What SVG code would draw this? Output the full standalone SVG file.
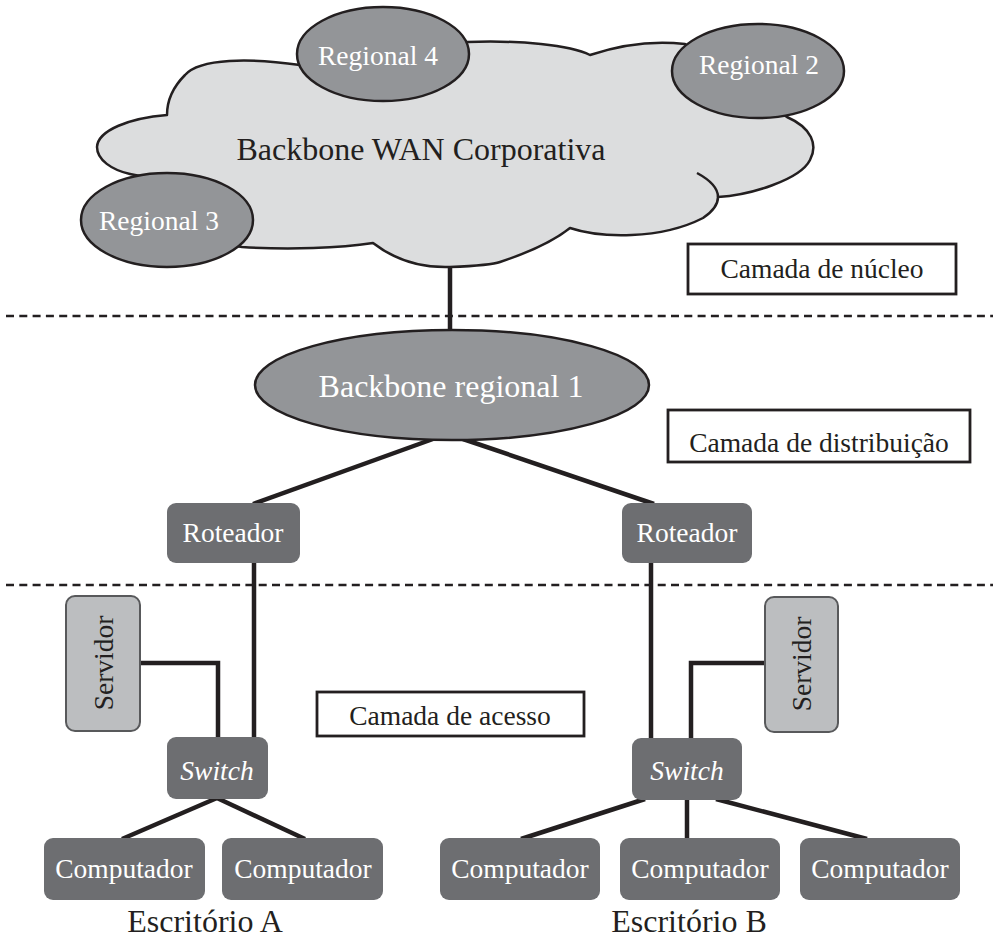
<svg xmlns="http://www.w3.org/2000/svg" width="993" height="939" viewBox="0 0 993 939">
<style>
text{font-family:"Liberation Serif","Times New Roman",serif;text-anchor:middle}
.w{fill:#ffffff}
.k{fill:#231f20}
.big{font-size:32px}
.mid{font-size:27.5px}
.ell{fill:#939598;stroke:#231f20;stroke-width:2.5}
.node{fill:#6d6e71}
.srv{fill:#bcbec0;stroke:#58595b;stroke-width:2}
.lbl{fill:#ffffff;stroke:#231f20;stroke-width:2.8}
.con{fill:none;stroke:#231f20;stroke-width:4.5}
.dash{fill:none;stroke:#231f20;stroke-width:2.5;stroke-dasharray:8 5.3}
</style>
<g id="layers">
<line class="dash" x1="6" y1="316" x2="993" y2="316"/>
<line class="dash" x1="6" y1="585" x2="993" y2="585"/>
</g>
<g id="connectors">
<line class="con" x1="450" y1="262" x2="450" y2="332"/>
<line class="con" x1="433" y1="439" x2="253" y2="504"/>
<line class="con" x1="463" y1="439" x2="654" y2="504"/>
<line class="con" x1="254" y1="562" x2="254" y2="738"/>
<line class="con" x1="651" y1="562" x2="651" y2="739"/>
<polyline class="con" points="140,663 218,663 218,738"/>
<polyline class="con" points="766,663 691,663 691,739"/>
<line class="con" x1="217" y1="798" x2="122" y2="839"/>
<line class="con" x1="217" y1="798" x2="305" y2="839"/>
<line class="con" x1="645" y1="799" x2="521" y2="839"/>
<line class="con" x1="687" y1="799" x2="687" y2="839"/>
<line class="con" x1="716" y1="799" x2="867" y2="839"/>
</g>
<g id="cloud">
<path d="M300,65 C250,58 200,58 185,75 C172,88 167,100 167,115 C130,118 98,130 97,147 C97,160 112,170 130,174 L140,176 L200,240 L242,247 C290,250 340,248 373,243 C395,260 420,268 450,267 C475,266 495,264 500,262 C530,252 555,240 570,228 C600,238 660,240 703,218 C712,212 718,205 718,197 C750,195 800,180 810,160 C818,145 812,128 787,117 L760,100 L685,44 C650,40 620,45 590,55 C570,45 520,40 467,42 L400,60 Z" fill="#dcddde" stroke="#231f20" stroke-width="2.5" stroke-linejoin="round"/>
<path d="M697,173 C710,180 718,188 718,197" fill="none" stroke="#231f20" stroke-width="2.5"/>
<text class="k big" x="421" y="160">Backbone WAN Corporativa</text>
</g>
<g id="regional4">
<ellipse class="ell" cx="383" cy="54" rx="86" ry="47"/>
<text class="w mid" x="378" y="65">Regional 4</text>
</g>
<g id="regional2">
<ellipse class="ell" cx="758" cy="71" rx="86" ry="47"/>
<text class="w mid" x="759" y="74">Regional 2</text>
</g>
<g id="regional3">
<ellipse class="ell" cx="167" cy="220" rx="86" ry="47"/>
<text class="w mid" x="159" y="230">Regional 3</text>
</g>
<g id="camada-nucleo">
<rect class="lbl" x="688" y="244" width="268" height="50"/>
<text class="k mid" x="822" y="278">Camada de núcleo</text>
</g>
<g id="backbone-regional-1">
<ellipse class="ell" cx="452" cy="385" rx="197" ry="55"/>
<text class="w big" x="451" y="397">Backbone regional 1</text>
</g>
<g id="camada-distribuicao">
<rect class="lbl" x="668" y="410" width="302" height="52"/>
<text class="k mid" x="819" y="452">Camada de distribuição</text>
</g>
<g id="roteador-a">
<rect class="node" x="167" y="503" width="133" height="60" rx="9"/>
<text class="w mid" x="233" y="542">Roteador</text>
</g>
<g id="roteador-b">
<rect class="node" x="622" y="503" width="130" height="60" rx="9"/>
<text class="w mid" x="687" y="542">Roteador</text>
</g>
<g id="servidor-a">
<rect class="srv" x="66" y="596" width="74" height="135" rx="9"/>
<text class="k mid" transform="translate(113,663) rotate(-90)" x="0" y="0">Servidor</text>
</g>
<g id="servidor-b">
<rect class="srv" x="765" y="597" width="73" height="135" rx="9"/>
<text class="k mid" transform="translate(811,664) rotate(-90)" x="0" y="0">Servidor</text>
</g>
<g id="camada-acesso">
<rect class="lbl" x="317" y="692" width="267" height="44"/>
<text class="k mid" x="450" y="725">Camada de acesso</text>
</g>
<g id="switch-a">
<rect class="node" x="167" y="737" width="101" height="62" rx="9"/>
<text class="w mid" x="217" y="780" font-style="italic">Switch</text>
</g>
<g id="switch-b">
<rect class="node" x="632" y="738" width="110" height="62" rx="9"/>
<text class="w mid" x="687" y="780" font-style="italic">Switch</text>
</g>
<g id="computador-a1">
<rect class="node" x="44" y="838" width="161" height="62" rx="9"/>
<text class="w mid" x="124" y="878">Computador</text>
</g>
<g id="computador-a2">
<rect class="node" x="222" y="838" width="161" height="62" rx="9"/>
<text class="w mid" x="303" y="878">Computador</text>
</g>
<g id="computador-b1">
<rect class="node" x="440" y="838" width="160" height="62" rx="9"/>
<text class="w mid" x="520" y="878">Computador</text>
</g>
<g id="computador-b2">
<rect class="node" x="620" y="838" width="160" height="62" rx="9"/>
<text class="w mid" x="700" y="878">Computador</text>
</g>
<g id="computador-b3">
<rect class="node" x="800" y="838" width="160" height="62" rx="9"/>
<text class="w mid" x="880" y="878">Computador</text>
</g>
<g id="escritorio-a">
<text class="k big" x="205" y="932">Escritório A</text>
</g>
<g id="escritorio-b">
<text class="k big" x="689" y="932">Escritório B</text>
</g>
</svg>
